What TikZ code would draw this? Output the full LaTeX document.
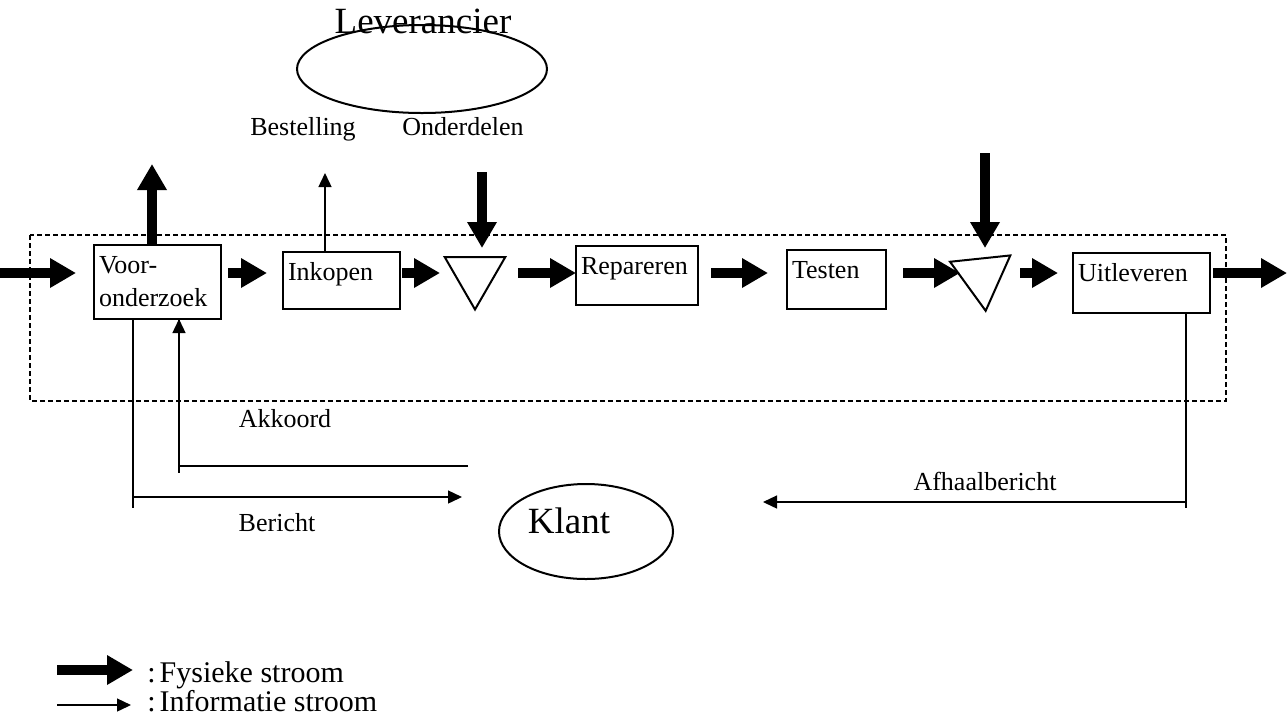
\documentclass[tikz,border=0pt]{standalone}
\usepackage{fontspec}
\setmainfont{Liberation Serif}
\usetikzlibrary{arrows.meta,shapes.geometric}

% text inside a process box, top left
\newcommand{\procbox}[3]{\parbox[t][#2][t]{#1}{\raggedright\leftskip=2.5pt\rule{0pt}{14pt}#3}}

\tikzset{
  proc/.style={draw, line width=1pt, inner sep=0pt, outer sep=0pt, anchor=north west},
  buffer/.style={draw, line width=1pt, regular polygon, regular polygon sides=3,
    shape border rotate=180, minimum size=35pt, inner sep=0pt},
  party/.style={draw, line width=1pt, ellipse, inner sep=0pt},
  lbl/.style={inner sep=0pt, anchor=base},
  big/.style={lbl, font=\fontsize{18.5}{22}\selectfont},
  legend/.style={lbl, anchor=base west, font=\fontsize{15}{18}\selectfont},
  fat/.style={line width=5pt, -{Triangle[length=13pt,width=14pt]}},
  info/.style={line width=0.7pt, -{Triangle[length=7pt,width=6.5pt]}},
  thin/.style={line width=0.7pt},
}

\begin{document}
\begin{tikzpicture}[x=0.5pt, y=-0.5pt, font=\fontsize{13}{16.5}\selectfont]
  \useasboundingbox[fill=white] (0,0) rectangle (1288,724);

  % grens van het proces
  \draw[line width=0.8pt, dash pattern=on 2.5pt off 1.5pt] (30,235) rectangle (1226,401);

  % processtappen
  \node[proc] (voor) at (94,245) {\procbox{63.5pt}{37pt}{Voor-\\onderzoek}};
  \node[proc] (inkopen) at (283,252) {\procbox{58.5pt}{28.5pt}{Inkopen}};
  \node[buffer] (tri1) at (475,274.5) {};
  \node[proc] (repareren) at (576,246) {\procbox{61pt}{29.5pt}{Repareren}};
  \node[proc] (testen) at (787,250) {\procbox{49.5pt}{29.5pt}{Testen}};
  \node[buffer, shape border rotate=186] (tri2) at (982,276) {};
  \node[proc] (uit) at (1073,253) {\procbox{68.5pt}{30pt}{Uitleveren}};

  % leverancier en klant
  \node[party, minimum width=125pt, minimum height=44pt] (lev) at (422,69) {};
  \node[big] (levtxt) at (423,33) {Leverancier};
  \node[party, minimum width=87pt, minimum height=47.5pt] (klant) at (586,531.5) {};
  \node[big] (klanttxt) at (569,533) {Klant};

  % vrije eindpunten
  \coordinate (flow) at (0,273);
  \coordinate (inkomst) at (0,273);
  \coordinate (uitgang) at (1287,273);
  \coordinate (afvoer) at (152,164);
  \coordinate (bestel) at (325,173);
  \coordinate (onder) at (482,172);
  \coordinate (lever) at (985,153);
  \coordinate (bertip) at (462,497);
  \coordinate (akkstart) at (468,466);
  \coordinate (afhtip) at (763,502);

  % fysieke stroom
  \draw[fat, shorten >=9pt] (inkomst) -- (voor.west |- flow);
  \draw[fat, shorten <=3.5pt, shorten >=8pt] (voor.east |- flow) -- (inkopen.west |- flow);
  \draw[fat, shorten <=1pt, shorten >=17.5pt] (inkopen.east |- flow) -- (tri1.center |- flow);
  \draw[fat, shorten <=21.5pt] (tri1.center |- flow) -- (repareren.west |- flow);
  \draw[fat, shorten <=6.5pt, shorten >=9.5pt] (repareren.east |- flow) -- (testen.west |- flow);
  \draw[fat, shorten <=8.5pt, shorten >=11pt] (testen.east |- flow) -- (tri2.center |- flow);
  \draw[fat, shorten <=19pt, shorten >=7.5pt] (tri2.center |- flow) -- (uit.west |- flow);
  \draw[fat, shorten <=1.5pt] (uit.east |- flow) -- (uitgang);
  \draw[fat] (afvoer |- voor.north) -- (afvoer);
  \draw[fat, shorten >=13.25pt] (onder) -- (onder |- tri1.center);
  \draw[fat, shorten >=14pt] (lever) -- (lever |- tri2.center);

  % informatie stroom
  \draw[info] (bestel |- inkopen.north) -- (bestel);
  \draw[thin] ([xshift=-12.25pt]voor.south) -- ++(0,189);
  \draw[info] ([xshift=-12.25pt]voor.south) |- (bertip);
  \draw[thin] ([xshift=10.75pt]voor.south) -- ++(0,154);
  \draw[info] (akkstart) -| ([xshift=10.75pt]voor.south);
  \draw[thin] ([xshift=22.25pt]uit.south) -- ++(0,195);
  \draw[info] ([xshift=22.25pt]uit.south) |- (afhtip);

  % labels
  \node[lbl] (bestelling) at (303,135) {Bestelling};
  \node[lbl] (onderdelen) at (463,135) {Onderdelen};
  \node[lbl] (akkoord) at (285,427) {Akkoord};
  \node[lbl] (bericht) at (277,531) {Bericht};
  \node[lbl] (afhaal) at (985,490) {Afhaalbericht};

  % legenda
  \coordinate (lf) at (57,670);
  \coordinate (li) at (57,705);
  \node[legend] (legfys) at (147,682) {:\hspace{2pt}Fysieke stroom};
  \node[legend] (leginf) at (147,711) {:\hspace{2pt}Informatie stroom};
  \draw[fat, shorten >=7pt] (lf) -- (lf -| legfys.west);
  \draw[info, shorten >=8pt] (li) -- (li -| leginf.west);
\end{tikzpicture}
\end{document}
